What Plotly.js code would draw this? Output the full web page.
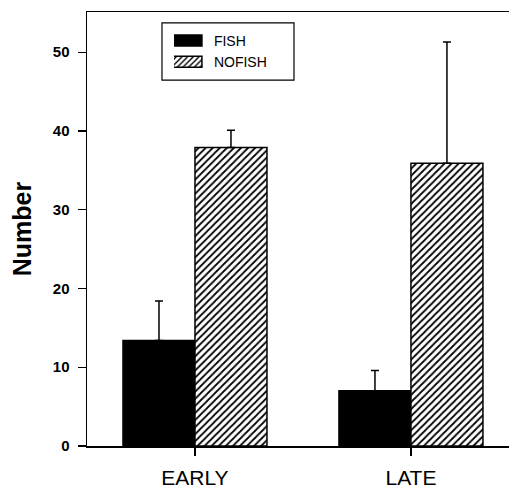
<!DOCTYPE html>
<html>
<head>
<meta charset="utf-8">
<script src="https://cdn.plot.ly/plotly-3.0.1.min.js"></script>
<style>html,body{margin:0;padding:0;background:#fff;}#chart{width:509px;height:490px;}</style>
</head>
<body>
<div id="chart"></div>
<script>
const categories = ['EARLY', 'LATE'];
const seriesNames = ['FISH', 'NOFISH'];
const fishMean = [13.4, 7.0];
const fishUpper = [18.4, 9.6];
const nofishMean = [37.9, 35.9];
const nofishUpper = [40.1, 51.3];
const yTickVals = [0, 10, 20, 30, 40, 50];

const diff = (u, m) => u.map((v, i) => +(v - m[i]).toFixed(2));
const zeros = n => new Array(n).fill(0);

const traces = [
  {
    type: 'bar', name: seriesNames[0], x: categories, y: fishMean,
    marker: {color: '#000', line: {color: '#000', width: 1.5}},
    error_y: {type: 'data', symmetric: false, array: diff(fishUpper, fishMean), arrayminus: zeros(2),
              color: '#000', thickness: 1.5, width: 4}
  },
  {
    type: 'bar', name: seriesNames[1], x: categories, y: nofishMean,
    marker: {color: '#fff', line: {color: '#000', width: 1.5},
             pattern: {shape: '/', fgcolor: '#000', bgcolor: '#fff', size: 5, solidity: 0.35}},
    error_y: {type: 'data', symmetric: false, array: diff(nofishUpper, nofishMean), arrayminus: zeros(2),
              color: '#000', thickness: 1.5, width: 4}
  }
];

const layout = {
  width: 509, height: 490,
  margin: {l: 87, r: 0, t: 12, b: 44},
  paper_bgcolor: '#fff', plot_bgcolor: '#fff',
  barmode: 'group', bargap: 1/3, bargroupgap: 0,
  showlegend: true,
  legend: {x: 0.206, y: 0.970, xanchor: 'left', yanchor: 'top',
           bgcolor: 'rgba(0,0,0,0)', borderwidth: 0,
           font: {family: 'Liberation Sans, Arial, sans-serif', size: 14, color: '#000'},
           tracegroupgap: 0},
  shapes: [{type: 'rect', xref: 'paper', yref: 'paper', x0: 0.1777, x1: 0.4905, y0: 0.843, y1: 0.975,
            line: {color: '#000', width: 1.2}, fillcolor: '#fff', layer: 'above'}],
  xaxis: {
    type: 'category', range: [-0.5, 1.454], autorange: false,
    showline: true, linecolor: '#000', linewidth: 1.5, mirror: true,
    ticks: 'outside', ticklen: 8, tickcolor: '#000', tickwidth: 1.2, ticklabelstandoff: 4,
    showgrid: false, zeroline: false, fixedrange: true,
    tickfont: {family: 'Liberation Sans, Arial, sans-serif', size: 21, color: '#000'}
  },
  yaxis: {
    range: [0, 55.1], autorange: false,
    tickvals: yTickVals, ticktext: yTickVals.map(String),
    showline: true, linecolor: '#000', linewidth: 1.5,
    ticks: 'outside', ticklen: 8, tickcolor: '#000', tickwidth: 1.2, ticklabelstandoff: 5,
    showgrid: false, zeroline: false, fixedrange: true,
    tickfont: {family: 'Liberation Sans, Arial, sans-serif', size: 15, color: '#000', weight: 'bold'},
    title: {text: 'Number', standoff: 14,
            font: {family: 'Liberation Sans, Arial, sans-serif', size: 25, color: '#000', weight: 'bold'}}
  }
};

Plotly.newPlot('chart', traces, layout, {staticPlot: true}).then(function (gd) {
  // widen the legend swatches to match the original figure's wide keys
  gd.querySelectorAll('.legend .legendpoints path').forEach(function (p) {
    p.setAttribute('d', 'M-32,5.5H8V-5.5H-32Z');
  });
});
</script>
</body>
</html>
